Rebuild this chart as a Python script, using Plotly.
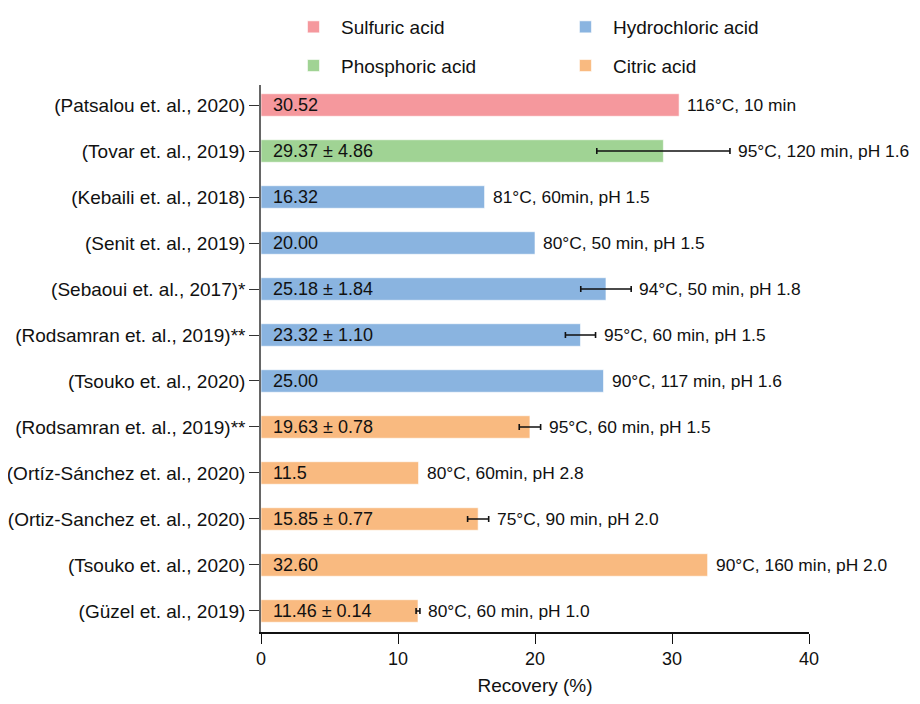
import plotly.graph_objects as go

# ---- data (top to bottom) ----
studies = ["(Patsalou et. al., 2020)", "(Tovar et. al., 2019)", "(Kebaili et. al., 2018)",
           "(Senit et. al., 2019)", "(Sebaoui et. al., 2017)*", "(Rodsamran et. al., 2019)**",
           "(Tsouko et. al., 2020)", "(Rodsamran et. al., 2019)**", "(Ortíz-Sánchez et. al., 2020)",
           "(Ortiz-Sanchez et. al., 2020)", "(Tsouko et. al., 2020)", "(Güzel et. al., 2019)"]
acids = ["Sulfuric acid", "Phosphoric acid", "Hydrochloric acid", "Hydrochloric acid",
         "Hydrochloric acid", "Hydrochloric acid", "Hydrochloric acid", "Citric acid",
         "Citric acid", "Citric acid", "Citric acid", "Citric acid"]
recovery = [30.52, 29.37, 16.32, 20.00, 25.18, 23.32, 25.00, 19.63, 11.5, 15.85, 32.60, 11.46]
errors = [0, 4.86, 0, 0, 1.84, 1.10, 0, 0.78, 0, 0.77, 0, 0.14]
value_labels = ["30.52", "29.37 ± 4.86", "16.32", "20.00", "25.18 ± 1.84", "23.32 ± 1.10",
                "25.00", "19.63 ± 0.78", "11.5", "15.85 ± 0.77", "32.60", "11.46 ± 0.14"]
conditions = ["116°C, 10 min", "95°C, 120 min, pH 1.6", "81°C, 60min, pH 1.5",
              "80°C, 50 min, pH 1.5", "94°C, 50 min, pH 1.8", "95°C, 60 min, pH 1.5",
              "90°C, 117 min, pH 1.6", "95°C, 60 min, pH 1.5", "80°C, 60min, pH 2.8",
              "75°C, 90 min, pH 2.0", "90°C, 160 min, pH 2.0", "80°C, 60 min, pH 1.0"]
acid_colors = {"Sulfuric acid": "#F5989D", "Hydrochloric acid": "#8AB4E0",
               "Phosphoric acid": "#A0D394", "Citric acid": "#F9BA80"}
legend_assign = {"Sulfuric acid": "legend", "Phosphoric acid": "legend",
                 "Hydrochloric acid": "legend2", "Citric acid": "legend2"}

FONT = "Liberation Sans, Arial, sans-serif"
fig = go.Figure()

for acid in ["Sulfuric acid", "Phosphoric acid", "Hydrochloric acid", "Citric acid"]:
    idx = [i for i, a in enumerate(acids) if a == acid]
    fig.add_trace(go.Bar(
        y=idx, x=[recovery[i] for i in idx], orientation="h", name=acid,
        marker=dict(color=acid_colors[acid], line=dict(color="rgba(255,255,255,0.6)", width=1)),
        width=0.49,
        legend=legend_assign[acid], legendgroup=acid, showlegend=True,
        hoverinfo="skip",
    ))

# error bars only where an error is reported
err_idx = [i for i, e in enumerate(errors) if e > 0]
fig.add_trace(go.Scatter(
    x=[recovery[i] for i in err_idx], y=err_idx, mode="markers",
    marker=dict(size=1, color="rgba(0,0,0,0)"),
    error_x=dict(type="data", array=[errors[i] for i in err_idx], visible=True,
                 color="#111111", thickness=1.6, width=3),
    showlegend=False, hoverinfo="skip",
))

for i in range(len(studies)):
    fig.add_annotation(x=0, y=i, text=value_labels[i], showarrow=False, xanchor="left",
                       xshift=10, font=dict(size=18, color="#111111", family=FONT))
    fig.add_annotation(x=recovery[i] + errors[i], y=i, text=conditions[i], showarrow=False,
                       xanchor="left", xshift=6, font=dict(size=17.4, color="#111111", family=FONT))

fig.update_layout(
    width=912, height=688,
    margin=dict(l=253, r=111, t=77, b=64, autoexpand=False),
    plot_bgcolor="white", paper_bgcolor="white",
    font=dict(family=FONT, size=18, color="#111111"),
    showlegend=True,
    legend=dict(xref="container", yref="container", x=0.3048, y=1.0102, xanchor="left", yanchor="top",
                orientation="v", font=dict(size=19), tracegroupgap=11, itemwidth=45,
                bgcolor="rgba(0,0,0,0)"),
    legend2=dict(xref="container", yref="container", x=0.603, y=1.0102, xanchor="left", yanchor="top",
                 orientation="v", font=dict(size=19), tracegroupgap=11, itemwidth=45,
                 bgcolor="rgba(0,0,0,0)"),
    xaxis=dict(range=[0, 40], tickvals=[0, 10, 20, 30, 40], showgrid=False, zeroline=False,
               showline=True, linecolor="#111111", linewidth=1.5, ticks="outside",
               ticklen=10, tickcolor="#111111", tickfont=dict(size=18), automargin=False,
               title=dict(text="Recovery (%)", font=dict(size=19), standoff=16)),
    yaxis=dict(range=[11.457, -0.435], tickvals=list(range(len(studies))), ticktext=studies,
               showgrid=False, zeroline=False, showline=True, linecolor="#666666", linewidth=1.5,
               ticks="outside", ticklen=10, tickcolor="#333333", tickfont=dict(size=19),
               automargin=False),
)

fig.write_html("out.html")
